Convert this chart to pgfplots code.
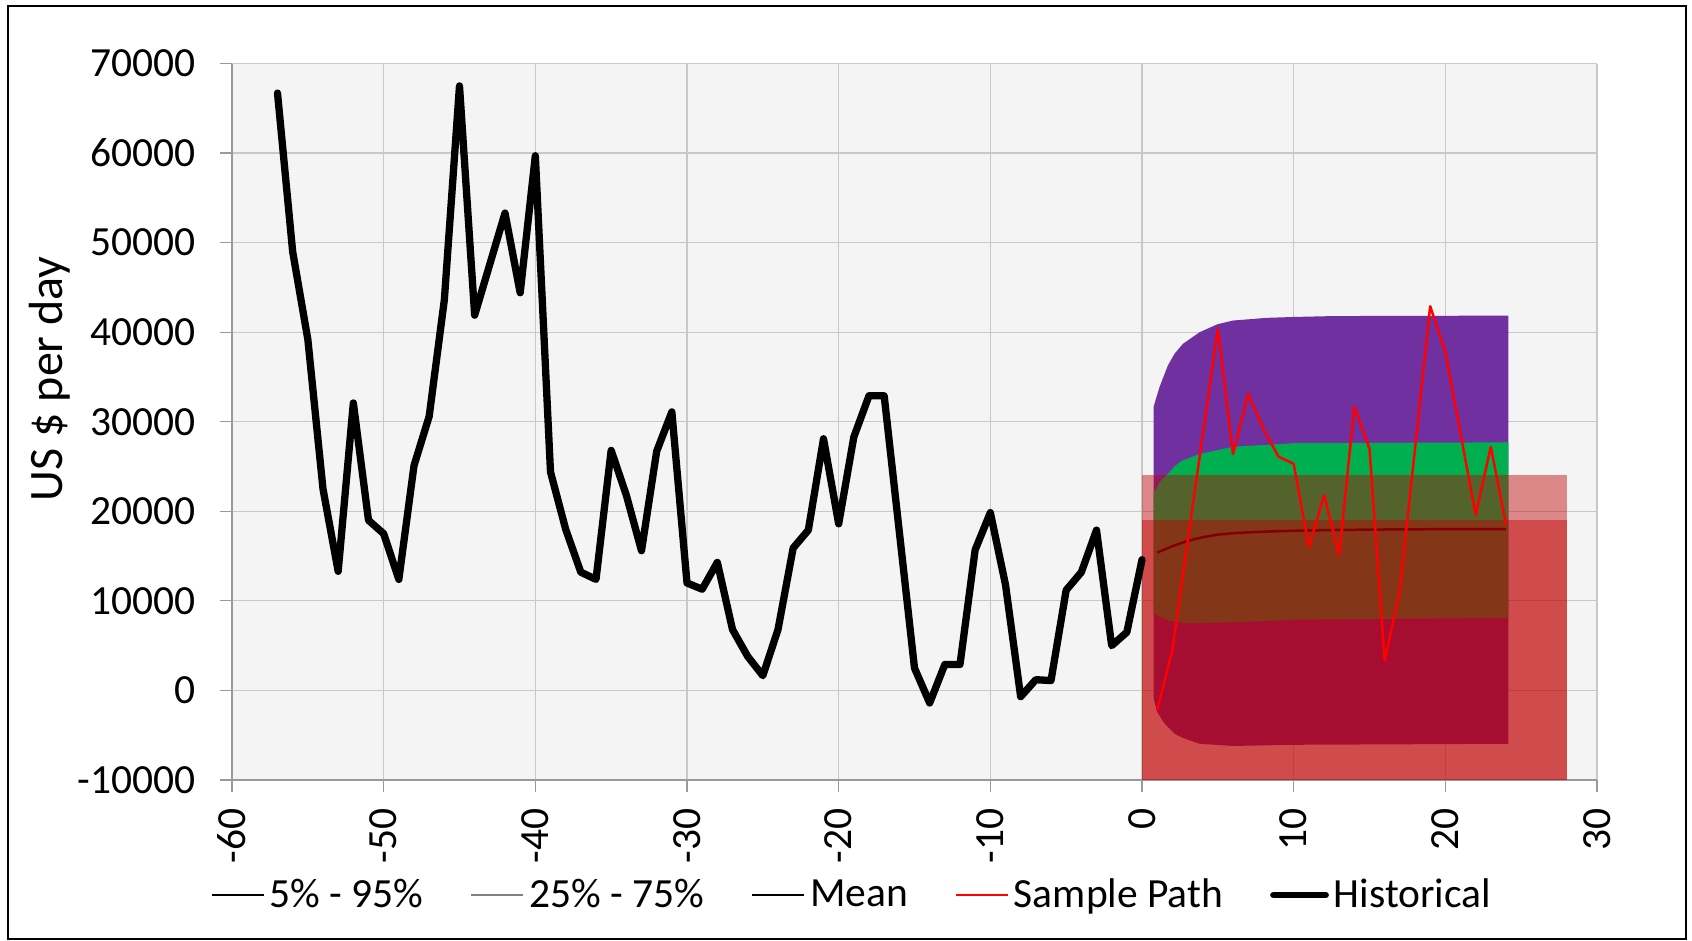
\documentclass[border=0pt]{standalone}
\usepackage{pgfplots}
\pgfplotsset{compat=1.18}
\usepackage{fontspec}
\setmainfont{Carlito}
\definecolor{bandpurple}{HTML}{7030A0}
\definecolor{bandgreen}{HTML}{00B050}
\definecolor{overlayred}{HTML}{C00000}
\definecolor{pathred}{HTML}{FF0000}
\definecolor{gridgray}{HTML}{C8C8C8}
\definecolor{axisgray}{HTML}{9A9A9A}
\definecolor{plotbg}{HTML}{F4F4F4}
\definecolor{leggray}{HTML}{808080}
\newcommand\lbl{\fontsize{20.75pt}{24pt}\selectfont}

\pgfplotstableread{
x y
-57 66700
-56 49000
-55 39200
-54 22500
-53 13300
-52 32100
-51 19000
-50 17500
-49 12400
-48 25100
-47 30600
-46 43600
-45 67500
-44 41900
-43 47600
-42 53300
-41 44400
-40 59700
-39 24400
-38 18000
-37 13200
-36 12400
-35 26800
-34 21800
-33 15600
-32 26700
-31 31100
-30 12000
-29 11300
-28 14300
-27 6800
-26 3800
-25 1650
-24 6800
-23 15900
-22 17900
-21 28100
-20 18600
-19 28300
-18 32900
-17 32900
-16 17700
-15 2500
-14 -1400
-13 2900
-12 2900
-11 15700
-10 19850
-9 11800
-8 -700
-7 1200
-6 1100
-5 11200
-4 13200
-3 17900
-2 5000
-1 6500
0 14600
}\historical

\pgfplotstableread{
x y
1 -2200
2 4500
3 16500
4 28500
5 40400
6 26400
7 33100
8 29200
9 26100
10 25300
11 16000
12 21800
13 15100
14 31700
15 27000
16 3300
17 11200
18 27000
19 42900
20 37800
21 28700
22 19600
23 27200
24 18500
}\samplepath

\pgfplotstableread{
x y
1 15400
2 16100
3 16700
4 17100
5 17400
6 17550
7 17650
8 17720
9 17780
10 17820
11 17860
12 17900
13 17920
14 17940
15 17960
16 17970
17 17980
18 17990
19 18000
20 18000
21 18000
22 18000
23 18000
24 18000
}\meanpath

\begin{document}
\begin{tikzpicture}
\useasboundingbox (0pt,0pt) rectangle (846pt,470.5pt);
\draw[line width=1pt] (4pt,1pt) rectangle (843pt,467.5pt);
\begin{axis}[
  at={(116pt,80.5pt)}, anchor=south west,
  scale only axis, width=682.5pt, height=358.25pt,
  xmin=-60, xmax=30, ymin=-10000, ymax=70000,
  xtick={-60,-50,...,30}, ytick={-10000,0,...,70000},
  scaled y ticks=false, scaled x ticks=false,
  grid=major, major grid style={color=gridgray, line width=0.6pt},
  axis lines*=left, axis line style={color=axisgray, line width=0.6pt},
  tick align=outside, major tick length=6pt,
  tick style={color=axisgray, line width=0.6pt},
  axis background/.style={fill=plotbg},
  /pgf/number format/assume math mode=true,
  /pgf/number format/1000 sep={},
  ticklabel style={font=\lbl},
  yticklabel style={anchor=east, inner sep=0pt, xshift=-12pt},
  xticklabel style={yshift=-8pt, rotate=90, anchor=east, inner sep=0pt},
  ylabel={US \$ per day},
  ylabel style={font=\fontsize{24pt}{28pt}\selectfont, at={(axis description cs:-0.1333,0.56)}, anchor=center, rotate=0},
  legend columns=5,
  legend style={at={(axis description cs:-0.0154,-0.1605)}, anchor=west,
    draw=none, fill=none, inner sep=0pt, outer sep=0pt, font=\lbl,
    nodes={inner sep=0pt, anchor=west},
    /tikz/every odd column/.append style={column sep=2.5pt},
    /tikz/every even column/.append style={column sep=23.5pt}},
  legend image code/.code={\draw[#1] (0pt,0pt) -- (26pt,0pt);},
]
\addlegendimage{black, line width=0.75pt}
\addlegendentry{5\% - 95\%}
\addlegendimage{leggray, line width=1.1pt}
\addlegendentry{25\% - 75\%}
\addlegendimage{black, line width=0.9pt}
\addlegendentry{Mean}
\addlegendimage{pathred, line width=0.9pt}
\addlegendentry{Sample Path}
\addlegendimage{black, line width=3.4pt, line cap=round}
\addlegendentry{Historical}

% 5% - 95% band
\addplot[draw=none, fill=bandpurple, forget plot] coordinates {
 (0.77,31700) (1.16,33900) (1.71,36300) (2.15,37600) (2.7,38700) (3.8,40000)
 (5,40900) (6,41300) (8.2,41600) (10,41700) (12.6,41800) (24.15,41850)
 (24.15,-5960) (10,-6070) (6,-6200) (3.8,-5960) (2.7,-5300) (2.2,-4900)
 (1.71,-4100) (1.4,-3500) (1.0,-2400) (0.77,-900)
} -- cycle;
% 25% - 75% band
\addplot[draw=none, fill=bandgreen, forget plot] coordinates {
 (0.77,22050) (1.2,23300) (1.71,24200) (2.2,25100) (2.7,25700) (3.8,26400)
 (6,27200) (10,27600) (24.15,27700)
 (24.15,8100) (10,7900) (6,7600) (2.9,7500) (1.8,7800) (1.2,8200) (0.77,8570)
} -- cycle;
% mean
\addplot[black, line width=1.25pt, forget plot] table[x=x,y=y] {\meanpath};
% translucent overlays
\addplot[draw=none, fill=overlayred, fill opacity=0.44, forget plot] coordinates {
 (0,-10000) (28,-10000) (28,24000) (0,24000)} -- cycle;
\addplot[draw=none, fill=overlayred, fill opacity=0.44, forget plot] coordinates {
 (0,-10000) (28,-10000) (28,19000) (0,19000)} -- cycle;
% sample path
\addplot[pathred, line width=1.25pt, line join=round, forget plot] table[x=x,y=y] {\samplepath};
% historical
\addplot[black, line width=3.65pt, line join=round, line cap=round, forget plot] table[x=x,y=y] {\historical};
\end{axis}
\end{tikzpicture}
\end{document}
